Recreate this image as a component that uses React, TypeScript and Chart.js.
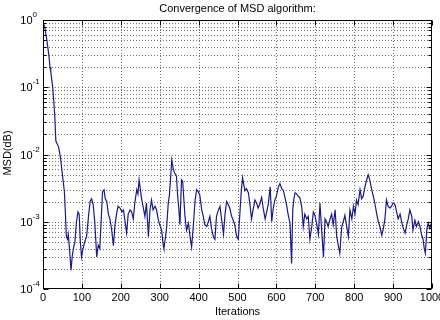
import { useEffect, useRef } from "react";
import { Chart, registerables } from "chart.js";

Chart.register(...registerables);

// Iteration index of each sample
const iterations = [
  0, 5, 10, 15, 18, 20, 25, 30, 33, 35, 40, 45, 50, 55, 58, 60, 63, 65, 68, 72,
  75, 78, 82, 86, 90, 93, 96, 99, 103, 107, 112, 117, 121, 125, 129, 133, 136, 138, 142, 146,
  150, 153, 157, 160, 164, 168, 172, 176, 181, 185, 189, 193, 198, 203, 207, 211, 215, 219, 224, 228,
  232, 236, 241, 244, 247, 251, 254, 258, 262, 266, 271, 275, 279, 283, 288, 292, 296, 300, 305, 309,
  311, 315, 318, 322, 325, 328, 331, 335, 339, 343, 346, 349, 352, 356, 359, 362, 365, 369, 374, 378,
  382, 386, 391, 395, 399, 403, 408, 412, 416, 421, 425, 429, 433, 438, 442, 446, 451, 455, 459, 464,
  468, 472, 476, 480, 485, 489, 493, 498, 502, 506, 510, 513, 516, 519, 523, 528, 532, 536, 540, 545,
  549, 553, 557, 562, 566, 571, 575, 579, 584, 588, 592, 596, 600, 605, 609, 614, 618, 622, 626, 630,
  635, 639, 642, 645, 648, 652, 656, 660, 665, 669, 673, 678, 682, 686, 691, 695, 699, 704, 708, 712,
  716, 721, 725, 729, 733, 738, 742, 746, 751, 755, 759, 763, 768, 772, 776, 780, 785, 789, 794, 798,
  802, 806, 810, 815, 819, 823, 827, 831, 836, 840, 845, 849, 853, 858, 862, 866, 871, 875, 879, 883,
  887, 892, 896, 900, 905, 909, 913, 918, 922, 926, 931, 935, 939, 943, 948, 951, 956, 960, 965, 969,
  973, 977, 980, 983, 987, 990, 994, 997, 1000,
];

// Mean square deviation at each sample
const msd = [
  0.95, 0.75, 0.5, 0.3, 0.2, 0.17, 0.1, 0.04, 0.016, 0.015, 0.013, 0.009, 0.005, 0.0028, 0.0012, 6e-4, 5.5e-4, 6.5e-4, 4e-4, 1.9e-4,
  3e-4, 4e-4, 5e-4, 1.0e-3, 1.4e-3, 1.3e-3, 5e-4, 3e-4, 4e-4, 5e-4, 6e-4, 1.2e-3, 2.0e-3, 2.2e-3, 1.8e-3, 1.0e-3, 5e-4, 3e-4, 4.5e-4, 4e-4,
  1.2e-3, 2.8e-3, 3.0e-3, 2.2e-3, 2.0e-3, 1.3e-3, 1.1e-3, 8e-4, 4.4e-4, 9e-4, 1.3e-3, 1.7e-3, 1.6e-3, 1.4e-3, 1.5e-3, 1.0e-3, 6.8e-4, 1.3e-3, 1.5e-3, 1.4e-3,
  1.1e-3, 1.9e-3, 3.0e-3, 2.6e-3, 4.2e-3, 2.8e-3, 2.1e-3, 1.6e-3, 1.2e-3, 1.9e-3, 6e-4, 1.5e-3, 2.1e-3, 1.5e-3, 1.7e-3, 1.5e-3, 1.1e-3, 9e-4, 7.5e-4, 4.5e-4,
  4e-4, 6e-4, 8.5e-4, 1.9e-3, 2.5e-3, 4.5e-3, 8.3e-3, 6e-3, 5.2e-3, 4.8e-3, 2.5e-3, 1.6e-3, 9e-4, 4.2e-3, 4.0e-3, 2.2e-3, 1.2e-3, 7.5e-4, 9.5e-4, 6e-4,
  4.2e-4, 8e-4, 2.1e-3, 3.0e-3, 2.8e-3, 2.5e-3, 1.5e-3, 1.2e-3, 9e-4, 8.5e-4, 1.0e-3, 1.2e-3, 8e-4, 6e-4, 5.5e-4, 1.2e-3, 1.5e-3, 1.7e-3, 1.1e-3, 6.5e-4,
  1.3e-3, 2.0e-3, 1.8e-3, 1.6e-3, 1.2e-3, 1.05e-3, 9e-4, 6e-4, 5.5e-4, 1.3e-3, 3.0e-3, 4.5e-3, 3.6e-3, 2.9e-3, 3.1e-3, 2.7e-3, 1.8e-3, 1.1e-3, 1.5e-3, 2.1e-3,
  1.9e-3, 1.6e-3, 1.8e-3, 2.3e-3, 1.6e-3, 1.1e-3, 1.4e-3, 1.8e-3, 3.3e-3, 1.0e-3, 1.6e-3, 2.1e-3, 2.4e-3, 3.3e-3, 3.7e-3, 3.1e-3, 2.9e-3, 2.3e-3, 1.8e-3, 1.3e-3,
  9.5e-4, 2.4e-4, 1.5e-3, 2.2e-3, 2.7e-3, 2.6e-3, 2.4e-3, 2.3e-3, 1.7e-3, 8.5e-4, 1.3e-3, 1.1e-3, 1.2e-3, 5.5e-4, 8.5e-4, 1.4e-3, 1.25e-3, 9e-4, 6.5e-4, 1.9e-3,
  8e-4, 3.0e-4, 1.1e-3, 1.0e-3, 8.5e-4, 1.1e-3, 1.3e-3, 9e-4, 1.5e-3, 6e-4, 4.5e-4, 3.4e-4, 8.5e-4, 1.0e-3, 1.25e-3, 9e-4, 6e-4, 1.5e-3, 1.1e-3, 1.7e-3,
  1.3e-3, 2.1e-3, 1.8e-3, 3.0e-3, 2.2e-3, 2.4e-3, 3.2e-3, 4.0e-3, 5.0e-3, 4.2e-3, 3.0e-3, 2.4e-3, 1.9e-3, 1.3e-3, 1.0e-3, 8.5e-4, 6.3e-4, 8e-4, 1.1e-3, 2.1e-3,
  1.7e-3, 1.6e-3, 1.7e-3, 1.9e-3, 1.8e-3, 1.4e-3, 1.1e-3, 1.3e-3, 1.0e-3, 8e-4, 6.8e-4, 9e-4, 1.1e-3, 1.5e-3, 1.2e-3, 7.5e-4, 1.05e-3, 8.5e-4, 1.0e-3, 8.5e-4,
  6.5e-4, 5.5e-4, 4e-4, 3.4e-4, 8e-4, 9.5e-4, 8e-4, 9e-4, 1.0e-3,
];

const xTicks = [0, 100, 200, 300, 400, 500, 600, 700, 800, 900, 1000];
const yDecades = [1e-4, 1e-3, 1e-2, 1e-1, 1];
const yExponents = ["-4", "-3", "-2", "-1", "0"];
const minorSteps = [2, 3, 4, 5, 6, 7, 8, 9];

const titleText = "Convergence of MSD algorithm:";
const xTitle = "Iterations";
const yTitle = "MSD(dB)";

const FONT = "'Liberation Sans', Arial, sans-serif";

// MATLAB-style axes: dotted grid, boxed frame, inward ticks, 10^n labels
const matlabAxes = {
  id: "matlabAxes",
  beforeDatasetsDraw(chart: any) {
    const { ctx, chartArea: a, scales } = chart;
    const xs = scales.x;
    const ys = scales.y;
    ctx.save();
    ctx.strokeStyle = "rgba(0,0,0,0.55)";
    ctx.lineWidth = 1;
    ctx.setLineDash([1, 2]);
    ctx.beginPath();
    for (const t of xTicks.slice(1, -1)) {
      const px = Math.round(xs.getPixelForValue(t)) + 0.5;
      ctx.moveTo(px, a.top);
      ctx.lineTo(px, a.bottom);
    }
    for (let d = 0; d < yDecades.length - 1; d++) {
      const vals = [yDecades[d], ...minorSteps.map((m) => yDecades[d] * m)];
      for (const v of vals) {
        if (v <= yDecades[0]) continue;
        const py = Math.round(ys.getPixelForValue(v)) + 0.5;
        ctx.moveTo(a.left, py);
        ctx.lineTo(a.right, py);
      }
    }
    ctx.stroke();
    ctx.restore();
  },
  afterDatasetsDraw(chart: any) {
    const { ctx, chartArea: a, scales } = chart;
    const xs = scales.x;
    const ys = scales.y;
    ctx.save();
    ctx.strokeStyle = "#000";
    ctx.lineWidth = 1;
    ctx.setLineDash([]);
    const L = Math.round(a.left) + 0.5;
    const R = Math.round(a.right) - 0.5;
    const T = Math.round(a.top) + 0.5;
    const B = Math.round(a.bottom) - 0.5;
    ctx.strokeRect(L, T, R - L, B - T);

    ctx.beginPath();
    for (const t of xTicks) {
      const px = Math.round(xs.getPixelForValue(t)) + 0.5;
      ctx.moveTo(px, B);
      ctx.lineTo(px, B - 5);
      ctx.moveTo(px, T);
      ctx.lineTo(px, T + 5);
    }
    for (let d = 0; d < yDecades.length; d++) {
      const py = Math.round(ys.getPixelForValue(yDecades[d])) + 0.5;
      ctx.moveTo(L, py);
      ctx.lineTo(L + 5, py);
      ctx.moveTo(R, py);
      ctx.lineTo(R - 5, py);
      if (d < yDecades.length - 1) {
        for (const m of minorSteps) {
          const pm = Math.round(ys.getPixelForValue(yDecades[d] * m)) + 0.5;
          ctx.moveTo(L, pm);
          ctx.lineTo(L + 3, pm);
          ctx.moveTo(R, pm);
          ctx.lineTo(R - 3, pm);
        }
      }
    }
    ctx.stroke();

    ctx.fillStyle = "#000";
    // x tick labels
    ctx.font = `11px ${FONT}`;
    ctx.textAlign = "center";
    ctx.textBaseline = "middle";
    for (const t of xTicks) {
      ctx.fillText(String(t), xs.getPixelForValue(t), a.bottom + 9);
    }
    // y tick labels as 10 with superscript exponent
    for (let d = 0; d < yDecades.length; d++) {
      const py = ys.getPixelForValue(yDecades[d]);
      ctx.font = `11px ${FONT}`;
      ctx.textAlign = "right";
      ctx.fillText("10", 32.5, py + 1);
      ctx.font = `8px ${FONT}`;
      ctx.textAlign = "left";
      ctx.fillText(yExponents[d], 32.5, py - 5);
    }
    // titles
    ctx.font = `11px ${FONT}`;
    ctx.textAlign = "center";
    ctx.fillText(titleText, (a.left + a.right) / 2, 9);
    ctx.fillText(xTitle, (a.left + a.right) / 2, 312);
    ctx.translate(8, 153);
    ctx.rotate(-Math.PI / 2);
    ctx.fillText(yTitle, 0, 0);
    ctx.restore();
  },
};

export default function App() {
  const canvasRef = useRef<HTMLCanvasElement | null>(null);

  useEffect(() => {
    document.body.style.margin = "0";
    const canvas = canvasRef.current;
    if (!canvas) return;
    const chart = new Chart(canvas, {
      type: "line",
      data: {
        datasets: [
          {
            label: "MSD",
            data: iterations.map((it, i) => ({ x: it, y: msd[i] })),
            borderColor: "#1a1a86",
            borderWidth: 1.2,
            pointRadius: 0,
            tension: 0,
            fill: false,
          },
        ],
      },
      options: {
        responsive: false,
        animation: false,
        devicePixelRatio: 1,
        layout: { padding: { left: 43, right: 8, top: 20, bottom: 31 } },
        plugins: {
          legend: { display: false },
          tooltip: { enabled: false },
          title: { display: false },
        },
        scales: {
          x: { type: "linear", min: 0, max: 1000, display: false },
          y: { type: "logarithmic", min: 1e-4, max: 1, display: false },
        },
      },
      plugins: [matlabAxes],
    });
    return () => chart.destroy();
  }, []);

  return (
    <div style={{ position: "absolute", left: 0, top: 0, width: 440, height: 320, background: "#fff" }}>
      <canvas ref={canvasRef} width={440} height={320} style={{ display: "block" }} />
    </div>
  );
}
